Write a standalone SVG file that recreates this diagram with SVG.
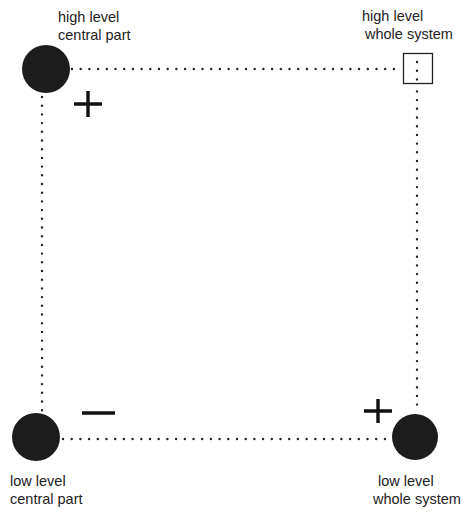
<svg xmlns="http://www.w3.org/2000/svg" width="471" height="515" viewBox="0 0 471 515">
<style>
text{font-family:"Liberation Sans",Arial,sans-serif;font-size:14.5px;fill:#222}
.dot{fill:none;stroke:#222;stroke-width:2.4;stroke-linecap:round;stroke-dasharray:0 8.7}
.node{fill:#1c1c1c}
.sign{stroke:#111;stroke-width:3.4;fill:none}
</style>
<rect width="471" height="515" fill="#fff"/>
<g id="connectors">
<path class="dot" d="M72 69 H402"/>
<path class="dot" d="M42 97 V412"/>
<path class="dot" d="M417 74 V412"/>
<path class="dot" d="M63 439 H391"/>
</g>
<g id="hl-central">
<circle class="node" cx="46" cy="69" r="24"/>
<text x="58" y="22">high level</text>
<text x="58" y="40">central part</text>
<path class="sign" d="M74 104 H102 M88 91 V117"/>
</g>
<g id="hl-whole">
<rect x="403.5" y="53.5" width="29" height="30" fill="#fff" stroke="#222" stroke-width="1.3"/>
<path class="dot" d="M417 62 V80"/>
<text x="362" y="21">high level</text>
<text x="365" y="39">whole system</text>
</g>
<g id="ll-central">
<circle class="node" cx="36" cy="437" r="24"/>
<text x="10" y="486">low level</text>
<text x="10" y="504">central part</text>
<path class="sign" d="M82 413 H115"/>
</g>
<g id="ll-whole">
<circle class="node" cx="415" cy="437" r="23"/>
<text x="378" y="486">low level</text>
<text x="373" y="504">whole system</text>
<path class="sign" d="M364 411 H392 M378 399 V423"/>
</g>
</svg>
